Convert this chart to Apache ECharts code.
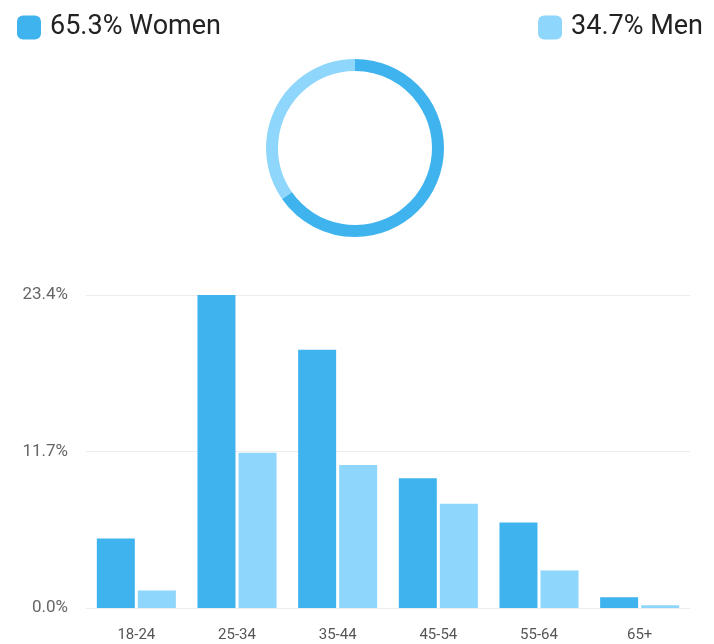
<!DOCTYPE html>
<html>
<head>
<meta charset="utf-8">
<script src="https://cdn.jsdelivr.net/npm/echarts@6/dist/echarts.min.js"></script>
<style>
  html, body { margin: 0; padding: 0; background: #ffffff; }
  #chart { width: 714px; height: 644px; }
</style>
</head>
<body>
<div id="chart"></div>
<script>
// Audience split by gender and age group (percent of total audience)
const genders = ['Women', 'Men'];
const genderShare = [65.3, 34.7];
const ageGroups = ['18-24', '25-34', '35-44', '45-54', '55-64', '65+'];
const womenByAge = [5.2, 23.4, 19.3, 9.7, 6.4, 0.8];
const menByAge = [1.3, 11.6, 10.7, 7.8, 2.8, 0.2];
const yTicks = [0, 11.7, 23.4];

const colorWomen = '#3fb3ee';
const colorMen = '#8ed6fb';
const fontFamily = 'Roboto, "Noto Sans", sans-serif';

const chart = echarts.init(document.getElementById('chart'), null, { renderer: 'canvas' });

const legendText = name => genderShare[genders.indexOf(name)].toFixed(1) + '% ' + name;
const legendBase = {
  top: 9,
  icon: 'roundRect',
  itemWidth: 24,
  itemHeight: 24,
  itemGap: 10,
  selectedMode: false,
  formatter: legendText,
  textStyle: { fontSize: 27, color: '#222', fontFamily: fontFamily, padding: [0, 0, 0, 4] }
};

chart.setOption({
  animation: false,
  color: [colorWomen, colorMen],
  legend: [
    Object.assign({}, legendBase, { left: 12, data: [genders[0]] }),
    Object.assign({}, legendBase, { right: 6, data: [genders[1]] })
  ],
  grid: { left: 86, right: 24, top: 295, bottom: 36, containLabel: false },
  xAxis: {
    type: 'category',
    data: ageGroups,
    axisLine: { show: false },
    axisTick: { show: false },
    axisLabel: { color: '#555', fontSize: 15, margin: 20, fontFamily: fontFamily }
  },
  yAxis: {
    type: 'value',
    min: yTicks[0],
    max: yTicks[yTicks.length - 1],
    interval: yTicks[1] - yTicks[0],
    axisLine: { show: false },
    axisTick: { show: false },
    splitLine: { lineStyle: { color: '#ececec', width: 1 } },
    axisLabel: {
      color: '#666',
      fontSize: 17,
      margin: 18,
      fontFamily: fontFamily,
      formatter: v => v.toFixed(1) + '%'
    }
  },
  series: [
    {
      type: 'pie',
      name: 'Gender',
      center: [355, 148],
      radius: [77, 89],
      startAngle: 90,
      clockwise: true,
      silent: true,
      label: { show: false },
      labelLine: { show: false },
      data: genders.map((g, i) => ({ name: g, value: genderShare[i] }))
    },
    {
      type: 'bar',
      name: genders[0],
      data: womenByAge,
      barWidth: 38,
      barGap: '8%',
      itemStyle: { color: colorWomen }
    },
    {
      type: 'bar',
      name: genders[1],
      data: menByAge,
      barWidth: 38,
      itemStyle: { color: colorMen }
    }
  ]
});
</script>
</body>
</html>
